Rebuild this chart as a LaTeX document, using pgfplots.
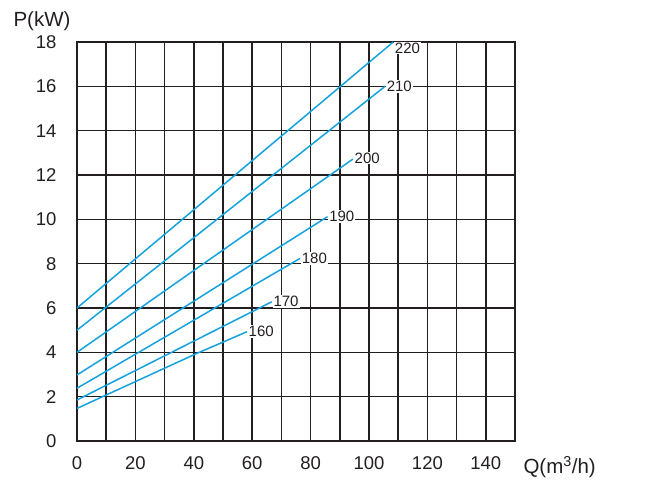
\documentclass[border=0pt]{standalone}
\usepackage{fontspec}
\setmainfont{Liberation Sans}
\usepackage{pgfplots}
\pgfplotsset{compat=1.18}
\definecolor{curve}{RGB}{20,162,222}
\definecolor{gridc}{RGB}{35,31,32}
\tikzset{lab/.style={font=\fontsize{15}{16}\selectfont, fill=white, inner sep=1pt, text=gridc},
  crv/.style={curve, solid, line width=1.5pt, mark=none}}
\begin{document}
\begin{tikzpicture}
\begin{axis}[
  scale only axis, width=438pt, height=399pt,
  xmin=0, xmax=150, ymin=0, ymax=18,
  xtick={0,20,...,140}, minor xtick={10,30,...,150},
  ytick={0,2,...,18},
  grid=both,
  tick style={draw=none},
  major grid style={gridc, line width=1.5pt},
  minor grid style={gridc, line width=1.5pt},
  axis line style={gridc, line width=1.9pt},
  /pgf/number format/assume math mode=true,
  ticklabel style={font=\fontsize{18.5}{20}\selectfont, text=gridc},
  xticklabel style={yshift=-12pt},
  yticklabel style={xshift=-17pt},
  clip=false,
]
\addplot[crv] coordinates {(0,6.0) (108.3,18.0)} node[lab, pos=1, anchor=north west, yshift=1pt] {220};
\addplot[crv] coordinates {(0,5.0) (105.5,16.0)} node[lab, pos=1, anchor=west] {210};
\addplot[crv] coordinates {(0,4.0) (94.5,12.72)} node[lab, pos=1, anchor=west, yshift=1pt] {200};
\addplot[crv] coordinates {(0,2.98) (85.8,10.12)} node[lab, pos=1, anchor=west] {190};
\addplot[crv] coordinates {(0,2.38) (76.4,8.24)} node[lab, pos=1, anchor=west] {180};
\addplot[crv] coordinates {(0,1.85) (66.7,6.28)} node[lab, pos=1, anchor=west] {170};
\addplot[crv] coordinates {(0,1.47) (41,3.95) (58.2,4.93)} node[lab, pos=1, anchor=west] {160};
\node[font=\fontsize{20.5}{22}\selectfont, text=gridc] at ([shift={(-35pt,21pt)}]rel axis cs:0,1) {P(kW)};
\node[font=\fontsize{20.5}{22}\selectfont, text=gridc, anchor=west] at ([shift={(5pt,-26pt)}]rel axis cs:1,0) {Q(m\textsuperscript{3}/h)};
\coordinate (ll) at (rel axis cs:0,0);
\coordinate (ur) at (rel axis cs:1,1);
\end{axis}
\path ([shift={(-77pt,-57pt)}]ll) rectangle ([shift={(135pt,42pt)}]ur);
\end{tikzpicture}
\end{document}
